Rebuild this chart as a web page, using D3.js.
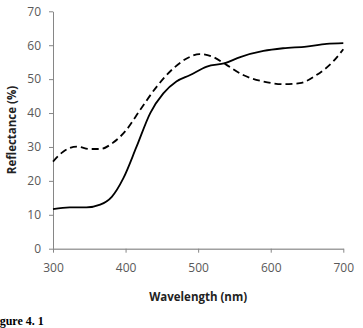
<!DOCTYPE html>
<html>
<head>
<meta charset="utf-8">
<script src="https://cdn.jsdelivr.net/npm/d3@7"></script>
<style>
  body { margin: 0; background: #fff; }
  svg { display: block; }
</style>
</head>
<body>
<script>
//
// DATA
//
var wavelength_solid = [300, 323, 346, 365, 381, 397, 415, 434, 452, 470, 489, 512, 537, 558, 590, 617, 649, 677, 700];
var reflect_solid    = [11.7, 12.2, 12.2, 13.0, 15.3, 20.8, 30, 40, 45.8, 49.3, 51.2, 53.7, 54.7, 56.5, 58.3, 59.1, 59.6, 60.4, 60.6];

var wavelength_dash = [300, 314, 333, 351, 365, 383, 401, 420, 443, 466, 489, 502, 521, 539, 562, 590, 617, 640, 663, 686, 700];
var reflect_dash    = [25.7, 28.6, 30.1, 29.4, 29.4, 31.3, 35, 40.9, 47.8, 53.2, 56.6, 57.4, 56.5, 54.2, 51.2, 49.3, 48.5, 48.8, 51.2, 55.2, 58.8];

var x_ticks = [300, 400, 500, 600, 700];
var y_ticks = [0, 10, 20, 30, 40, 50, 60, 70];

//
// LAYOUT
//
var width = 363, height = 328;
var left = 53, right = 343.3, top_ = 11.3, bottom = 248.7;
var font = "'Open Sans', 'Liberation Sans', sans-serif";

var svg = d3.select("body")
            .append("svg")
            .attr("width", width)
            .attr("height", height);

var x = d3.scaleLinear().domain([300, 700]).range([left, right]);
var y = d3.scaleLinear().domain([0, 70]).range([bottom, top_]);

// Y axis
var yAxis = svg.append("g")
               .attr("transform", "translate(" + left + ",0)")
               .call(d3.axisLeft(y).tickValues(y_ticks).tickSize(4).tickPadding(8).tickSizeOuter(0));
yAxis.select(".domain").attr("stroke", "#868686");
yAxis.selectAll(".tick line").attr("stroke", "#868686");
yAxis.selectAll("text").attr("fill", "#595959").style("font-family", font).style("font-size", "12px");

// X axis
var xAxis = svg.append("g")
               .attr("transform", "translate(0," + bottom + ")")
               .call(d3.axisBottom(x).tickValues(x_ticks).tickSize(4).tickPadding(11).tickSizeOuter(0));
xAxis.select(".domain").attr("stroke", "#a0a0a0").attr("stroke-width", 1.5);
xAxis.selectAll(".tick line").attr("stroke", "#868686");
xAxis.selectAll("text").attr("fill", "#595959").style("font-family", font).style("font-size", "12px");

// Lines
var line = d3.line()
             .curve(d3.curveMonotoneX)
             .x(function(d){ return x(d[0]); })
             .y(function(d){ return y(d[1]); });

svg.append("path")
   .datum(d3.zip(wavelength_solid, reflect_solid))
   .attr("fill", "none")
   .attr("stroke", "#000")
   .attr("stroke-width", 1.8)
   .attr("d", line);

svg.append("path")
   .datum(d3.zip(wavelength_dash, reflect_dash))
   .attr("fill", "none")
   .attr("stroke", "#000")
   .attr("stroke-width", 1.8)
   .attr("stroke-dasharray", "7,4")
   .attr("d", line);

// Axis titles
svg.append("text")
   .attr("x", (left + right) / 2)
   .attr("y", 301)
   .attr("text-anchor", "middle")
   .style("font-family", font)
   .style("font-size", "11.5px")
   .style("font-weight", "bold")
   .attr("fill", "#222")
   .text("Wavelength (nm)");

svg.append("text")
   .attr("transform", "translate(16," + (bottom + top_) / 2 + ") rotate(-90)")
   .attr("text-anchor", "middle")
   .style("font-family", font)
   .style("font-size", "11.5px")
   .style("font-weight", "bold")
   .attr("fill", "#222")
   .text("Reflectance (%)");

// Figure caption (cut off at the left edge, as in the source)
svg.append("text")
   .attr("x", -11)
   .attr("y", 325)
   .style("font-family", "'Liberation Serif', serif")
   .style("font-size", "12px")
   .style("font-weight", "bold")
   .attr("fill", "#000")
   .text("Figure 4. 1");
</script>
</body>
</html>
